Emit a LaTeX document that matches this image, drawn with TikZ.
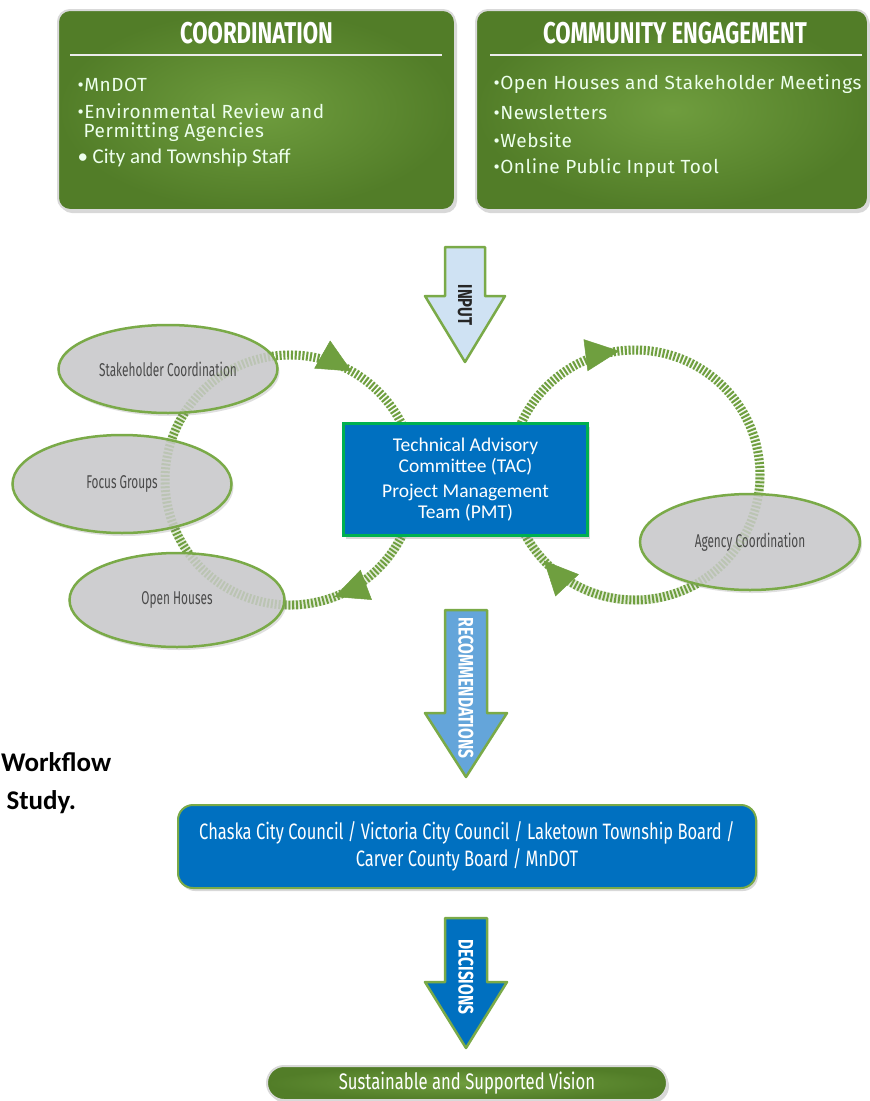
\documentclass[tikz,border=0pt]{standalone}
\usepackage{fontspec}
\setmainfont{Carlito}
\newfontfamily\dinfont{Fira Sans}[LetterSpace=3]
\newfontfamily\dincond{Fira Sans}[FakeStretch=0.74]
\newfontfamily\ovalfont{Fira Sans}[FakeStretch=0.64]
\usetikzlibrary{shapes.geometric, shadows, decorations.markings, arrows.meta}

\definecolor{boxgreen}{HTML}{527D28}
\definecolor{boxgreenlight}{HTML}{6F9D3E}
\definecolor{hatchgreen}{HTML}{6F9F3F}
\definecolor{rimgreen}{HTML}{7AAA48}
\definecolor{ovalgray}{HTML}{CECED0}
\definecolor{mnblue}{HTML}{0070C0}
\definecolor{tacgreen}{HTML}{00B050}
\definecolor{inputblue}{HTML}{CFE2F3}
\definecolor{recblue}{HTML}{64A5DA}
\definecolor{labelgray}{HTML}{4A4A4A}

\tikzset{
  greenbox/.style={draw=black!15, line width=2pt, rounded corners=12pt,
    inner color=boxgreenlight, outer color=boxgreen,
    drop shadow={opacity=0.3, shadow xshift=2pt, shadow yshift=-3pt}},
  boxtitle/.style={text=white, font=\dincond\bfseries\fontsize{30}{30}\selectfont},
  item/.style={anchor=west, text=white!93!green, align=left,
    font=\dinfont\fontsize{19}{20}\selectfont},
  oval/.style={ellipse, draw=rimgreen, line width=2.5pt, fill=ovalgray, inner sep=0pt,
    text=labelgray, font=\ovalfont\fontsize{18.5}{18.5}\selectfont,
    drop shadow={opacity=0.25, shadow xshift=2pt, shadow yshift=-3pt}},
  hatch/.style={draw=hatchgreen, line width=9pt, dash pattern=on 2pt off 1.8pt},
  bigtip/.style={hatchgreen, solid, line width=0.5pt},
  blockarrow/.style={line width=2.5pt, draw=rimgreen, line join=round},
  arrowlabel/.style={rotate=-90, font=\dincond\bfseries\fontsize{21}{21}\selectfont}
}

\begin{document}
\begin{tikzpicture}[x=1pt, y=1pt]
\fill[white] (0,0) rectangle (870,-1101);
\useasboundingbox (0,0) rectangle (870,-1101);

% top boxes
\node[greenbox, minimum width=397, minimum height=200] (coord) at (256.5,-110) {};
\node[greenbox, minimum width=392, minimum height=200] (comm) at (672,-110) {};
\node[boxtitle] (coordtitle) at (256.5,-33) {COORDINATION};
\node[boxtitle] (commtitle) at (675,-33) {COMMUNITY ENGAGEMENT};
\draw[white!85!gray, line width=1.3pt] (70,-55) -- (442,-55);
\draw[white!85!gray, line width=1.3pt] (490,-55) -- (862,-55);

\node[item] (mndot) at (74,-85) {•MnDOT};
\node[item] (envrev) at (74,-123) {•Environmental Review and\\[-1pt]\hphantom{•}Permitting Agencies};
\node[item, font=\fontsize{21}{21}\selectfont] (staff) at (74,-158) {• City and Township Staff};

\node[item] (meet) at (490,-84) {•Open Houses and Stakeholder Meetings};
\node[item] (news) at (490,-112) {•Newsletters};
\node[item] (web) at (490,-140) {•Website};
\node[item] (tool) at (490,-168) {•Online Public Input Tool};

% input arrow
\draw[blockarrow, fill=inputblue] (445,-247) -- (485,-247) -- (485,-296) -- (505,-296)
  -- (465,-362) -- (425,-296) -- (445,-296) -- cycle;
\node[arrowlabel, text=black!85, font=\dincond\bfseries\fontsize{20}{20}\selectfont] (inputlbl) at (465,-305) {INPUT};

% feedback loops
\draw[hatch, postaction={decorate, decoration={markings,
    mark=at position 0.11 with {\arrow[bigtip]{Triangle[length=34pt, width=32pt]}},
    mark=at position 0.47 with {\arrow[bigtip]{Triangle[length=34pt, width=32pt]}}}}]
  (290,-480) ++(100:125) arc[start angle=100, end angle=-260, radius=125];
\draw[hatch, postaction={decorate, decoration={markings,
    mark=at position 0.23 with {\arrow[bigtip]{Triangle[length=34pt, width=32pt]}},
    mark=at position 0.88 with {\arrow[bigtip]{Triangle[length=34pt, width=32pt]}}}}]
  (635,-475) ++(180:125) arc[start angle=180, end angle=-180, radius=125];

\node[oval, minimum width=219, minimum height=88] (stake) at (168,-369) {Stakeholder Coordination};
\node[oval, minimum width=219, minimum height=98] (focus) at (122,-484) {Focus Groups};
\node[oval, minimum width=215, minimum height=94] (open) at (177,-600) {Open Houses};
\node[oval, minimum width=220, minimum height=96] (agency) at (750,-542) {Agency Coordination};

% loops seen faintly through the ovals
\draw[hatch, draw opacity=0.2] (290,-480) circle[radius=125];
\draw[hatch, draw opacity=0.2] (635,-475) circle[radius=125];

\node[fill=mnblue, draw=tacgreen, line width=3pt, minimum width=244, minimum height=112,
  text=white, align=center, font=\fontsize{19.5}{21}\selectfont,
  drop shadow={opacity=0.3, shadow xshift=2pt, shadow yshift=-3pt}] (tac) at (465.5,-479.5)
  {Technical Advisory\\Committee (TAC)\\[4pt]Project Management\\Team (PMT)};

% recommendations arrow
\draw[blockarrow, fill=recblue] (445,-610) -- (487,-610) -- (487,-713) -- (507,-713)
  -- (466,-777) -- (425,-713) -- (445,-713) -- cycle;
\node[arrowlabel, text=white] (reclbl) at (466,-688) {RECOMMENDATIONS};

\node[anchor=west, inner sep=1pt, font=\bfseries\fontsize{27}{27}\selectfont] (wf) at (0,-762) {Workflow};
\node[anchor=west, font=\bfseries\fontsize{27}{27}\selectfont] (study) at (3,-802) {Study.};

% decision makers
\node[fill=mnblue, draw=rimgreen, line width=2pt, rounded corners=15pt,
  minimum width=578, minimum height=83, text=white, align=center,
  font=\dincond\fontsize{22.3}{27}\selectfont,
  drop shadow={opacity=0.3, shadow xshift=2pt, shadow yshift=-3pt}] (council) at (467,-846.5)
  {Chaska City Council / Victoria City Council / Laketown Township Board /\\Carver County Board / MnDOT};

\draw[blockarrow, fill=mnblue] (445,-918) -- (487,-918) -- (487,-982) -- (507,-982)
  -- (466,-1048) -- (425,-982) -- (445,-982) -- cycle;
\node[arrowlabel, text=white] (declbl) at (466,-977) {DECISIONS};

\node[greenbox, rounded corners=17pt, minimum width=400, minimum height=34,
  text=white, font=\dincond\fontsize{22.5}{22.5}\selectfont] (vision) at (467,-1083)
  {Sustainable and Supported Vision};
\end{tikzpicture}
\end{document}
